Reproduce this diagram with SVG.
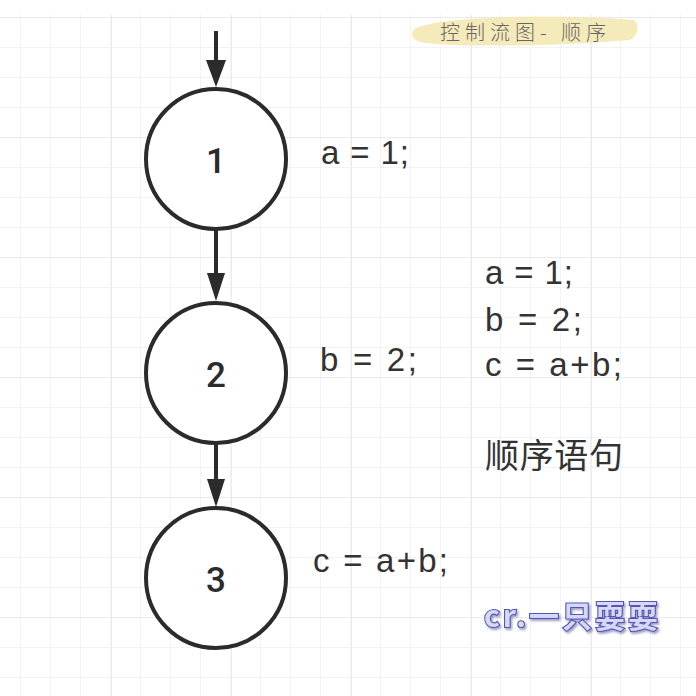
<svg xmlns="http://www.w3.org/2000/svg" width="696" height="696" viewBox="0 0 696 696">
<defs>
<pattern id="minor" x="20" y="17" width="30" height="30" patternUnits="userSpaceOnUse">
<path d="M0 0V30M0 0H30" fill="none" stroke="#f0f0f0" stroke-width="1.5"/>
</pattern>
<pattern id="major" x="111" y="17" width="120" height="120" patternUnits="userSpaceOnUse">
<path d="M0 0V120M0 0H120" fill="none" stroke="#e7e7e7" stroke-width="1.5"/>
</pattern>
<filter id="shadow" x="-10%" y="-20%" width="130%" height="160%">
<feDropShadow dx="1.5" dy="2" stdDeviation="1.2" flood-color="#6060a0" flood-opacity="0.6"/>
</filter>
</defs>
<style>
.node circle{fill:#fff;stroke:#2b2b2b;stroke-width:4}
.num{font-family:Roboto,"Liberation Sans",sans-serif;font-size:35px;font-weight:500;fill:#2b2b2b;text-anchor:middle}
.lbl{font-family:"Liberation Sans",Arial,sans-serif;font-size:33px;fill:#333}
.cjk{font-family:"Noto Sans CJK SC",sans-serif;font-size:34px;fill:#333}
.edge{stroke:#2b2b2b;stroke-width:4;fill:none}
.head{fill:#2b2b2b}
</style>
<rect width="696" height="696" fill="#fff"/>
<rect x="0" y="15" width="696" height="681" fill="url(#minor)"/>
<rect x="0" y="15" width="696" height="681" fill="url(#major)"/>
<g id="title">
<path d="M416 28 C440 16 560 14 634 20 C640 24 638 36 630 40 C560 46 450 48 420 42 C410 38 410 32 416 28Z" fill="#f3e6ad" opacity="0.85"/>
<text x="440" y="40" font-family="Noto Sans CJK SC,sans-serif" font-size="20" font-weight="300" fill="#666" textLength="166" lengthAdjust="spacing">控制流图- 顺序</text>
</g>
<g id="connectors">
<line class="edge" x1="216" y1="31" x2="216" y2="62"/>
<path class="head" d="M206 60H226L216 87Z"/>
<line class="edge" x1="216" y1="229" x2="216" y2="276"/>
<path class="head" d="M207 273H225L216 301Z"/>
<line class="edge" x1="216" y1="443" x2="216" y2="482"/>
<path class="head" d="M207 479H225L216 507Z"/>
</g>
<g id="node1" class="node">
<circle cx="216" cy="159" r="70"/>
<text class="num" x="216" y="173">1</text>
</g>
<g id="node2" class="node">
<circle cx="216" cy="373" r="70"/>
<text class="num" x="216" y="387">2</text>
</g>
<g id="node3" class="node">
<circle cx="216" cy="578" r="70"/>
<text class="num" x="216" y="592">3</text>
</g>
<g id="labels">
<text class="lbl" x="321" y="164" textLength="88" lengthAdjust="spacing">a = 1;</text>
<text class="lbl" x="320" y="371" textLength="97" lengthAdjust="spacing">b = 2;</text>
<text class="lbl" x="313" y="572" textLength="135" lengthAdjust="spacing">c = a+b;</text>
<text class="lbl" x="485" y="284" textLength="88" lengthAdjust="spacing">a = 1;</text>
<text class="lbl" x="485" y="331" textLength="97" lengthAdjust="spacing">b = 2;</text>
<text class="lbl" x="485" y="376" textLength="137" lengthAdjust="spacing">c = a+b;</text>
<text class="cjk" x="485" y="468" textLength="138" lengthAdjust="spacing">顺序语句</text>
</g>
<g id="watermark" filter="url(#shadow)">
<text x="484" y="627" font-family="Noto Sans CJK SC,sans-serif" font-size="30" font-weight="700" fill="#d6d8f8" stroke="#5656b0" stroke-width="2.2" paint-order="stroke" textLength="174" lengthAdjust="spacing">cr.一只耍耍</text>
</g>
</svg>
